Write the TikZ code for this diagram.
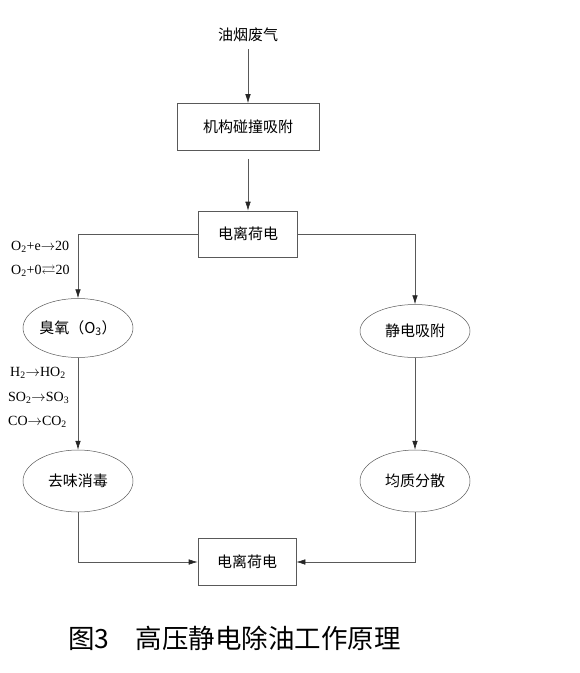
\documentclass[tikz,border=0pt]{standalone}
\usepackage{amssymb}
\usepackage{fontspec}
\setmainfont{Liberation Serif}
\newfontfamily\cjk{Noto Sans CJK SC}
\usetikzlibrary{shapes.geometric,arrows.meta,positioning}
\definecolor{linec}{gray}{0.35}
\begin{document}
\begin{tikzpicture}[x=1pt,y=-1pt,
box/.style={draw=linec,line width=0.6pt,align=center,font=\cjk\fontsize{15}{17}\selectfont},
ell/.style={ellipse,draw=linec,line width=0.5pt,minimum width=110pt,minimum height=59pt,inner sep=0pt,font=\cjk\fontsize{15}{17}\selectfont},
arr/.style={draw=linec,line width=0.6pt,-{Latex[length=9pt,width=5.5pt,black!85]}},
chem/.style={anchor=west,inner sep=0pt,font=\fontsize{14}{16}\selectfont}]
\useasboundingbox (0,0) rectangle (580,673);
% main column
\node[font=\cjk\fontsize{15}{17}\selectfont] (gas) at (248,35) {油烟废气};
\node[box,minimum width=142pt,minimum height=47pt] (collide) at (248,127) {机构碰撞吸附};
\node[box,minimum width=99pt,minimum height=46pt] (ion1) at (248,234) {电离荷电};
\node[ell] (ozone) at (78,328) {臭氧（O\textsubscript{3}）};
\node[ell,minimum height=53pt] (adsorb) at (415,331) {静电吸附};
\node[ell,minimum height=62pt] (deodor) at (78,481) {去味消毒};
\node[ell,minimum height=62pt] (disperse) at (415,481) {均质分散};
\node[box,minimum width=98pt,minimum height=47pt] (ion2) at (247,562) {电离荷电};
% connectors
\draw[arr] (gas.south) ++(0,4) -- (collide.north);
\draw[arr] (collide.south) ++(0,8) -- (ion1.north);
\draw[arr] (ion1.west) -| (ozone.north);
\draw[arr] (ion1.east) -| (adsorb.north);
\draw[arr] (ozone.south) -- (deodor.north);
\draw[arr] (adsorb.south) -- (disperse.north);
\draw[arr] (deodor.south) |- (ion2.west);
\draw[arr] (disperse.south) |- (ion2.east);
% reactions
\node[chem] (r1) at (11,247) {O\textsubscript{2}+e$\rightarrow$20};
\node[chem] (r2) at (11,271) {O\textsubscript{2}+0$\rightleftarrows$20};
\node[chem] (r3) at (10,373) {H\textsubscript{2}$\rightarrow$HO\textsubscript{2}};
\node[chem] (r4) at (8,398) {SO\textsubscript{2}$\rightarrow$SO\textsubscript{3}};
\node[chem] (r5) at (8,422) {CO$\rightarrow$CO\textsubscript{2}};
% caption
\node[anchor=west,inner sep=0pt,font=\cjk\fontsize{26.5}{28}\selectfont] (cap) at (68,638) {图3\hspace{1em}高压静电除油工作原理};
\end{tikzpicture}
\end{document}
